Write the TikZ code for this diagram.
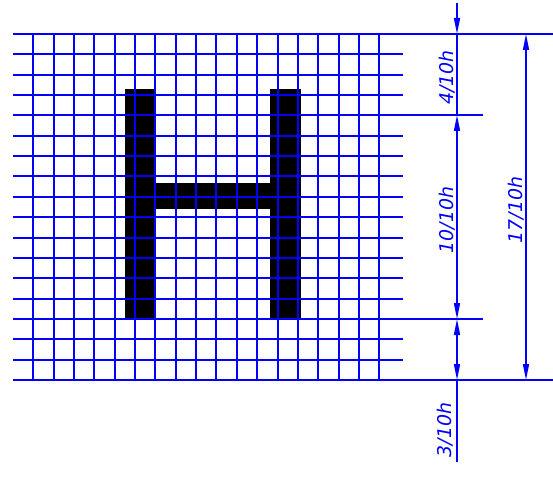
\documentclass[tikz,border=0pt]{standalone}
\usepackage{fontspec}
\setmainfont{DejaVu Sans}
\usetikzlibrary{arrows.meta}
\tikzset{
  gridline/.style={blue, line width=1.5bp},
  dimline/.style={blue, line width=1.5bp},
  dimtip/.style={-{Triangle[length=16bp,width=6bp]}},
  dimtips/.style={{Triangle[length=16bp,width=6bp]}-{Triangle[length=16bp,width=6bp]}},
  dimlabel/.style={blue, rotate=90, anchor=south, inner sep=1pt, font=\fontsize{19}{19}\selectfont\itshape},
}
\begin{document}
\begin{tikzpicture}[x=1bp,y=-1bp]
    \useasboundingbox (0,0) rectangle (553,484);
    % letter
    \fill[black] (125.3,89) rectangle (155.7,319);
    \fill[black] (270,89) rectangle (300.7,319);
    \fill[black] (155.7,183.3) rectangle (270,209.3);
    % grid, snapped to pixels
    \foreach \i in {0,...,17}{
        \pgfmathsetmacro\gx{round(33.3+\i*20.35)}
        \draw[gridline] (\gx,34) -- (\gx,380);
    }
    \foreach \j in {0,...,17}{
        \pgfmathsetmacro\gy{round(380-\j*20.35)}
        \draw[gridline] (13,\gy) -- (403,\gy);
    }
    % dimension points
    \coordinate (d1top) at (457,3);
    \coordinate (d1a) at (457,34);
    \coordinate (d1b) at (457,115);
    \coordinate (d1c) at (457,319);
    \coordinate (d1d) at (457,380);
    \coordinate (d1end) at (457,462);
    \coordinate (d2a) at (526,34);
    \coordinate (d2b) at (526,380);
    % extension lines
    \draw[dimline] (403,34) -- (553,34);
    \draw[dimline] (403,380) -- (553,380);
    \draw[dimline] (403,115) -- (483,115);
    \draw[dimline] (403,319) -- (483,319);
    % dimensions
    \draw[dimline,dimtip] (d1top) -- (d1a);
    \draw[dimline] (d1a) -- (d1b) node[midway,dimlabel,xshift=-3pt]{4/10h};
    \draw[dimline,dimtips] (d1b) -- (d1c) node[midway,dimlabel,xshift=-3pt]{10/10h};
    \draw[dimline,dimtips] (d1c) -- (d1d);
    \draw[dimline] (d1d) -- (d1end);
    \node[dimlabel] at (454,430) {3/10h};
    \draw[dimline,dimtips] (d2a) -- (d2b) node[midway,dimlabel,xshift=-3pt]{17/10h};
\end{tikzpicture}
\end{document}
